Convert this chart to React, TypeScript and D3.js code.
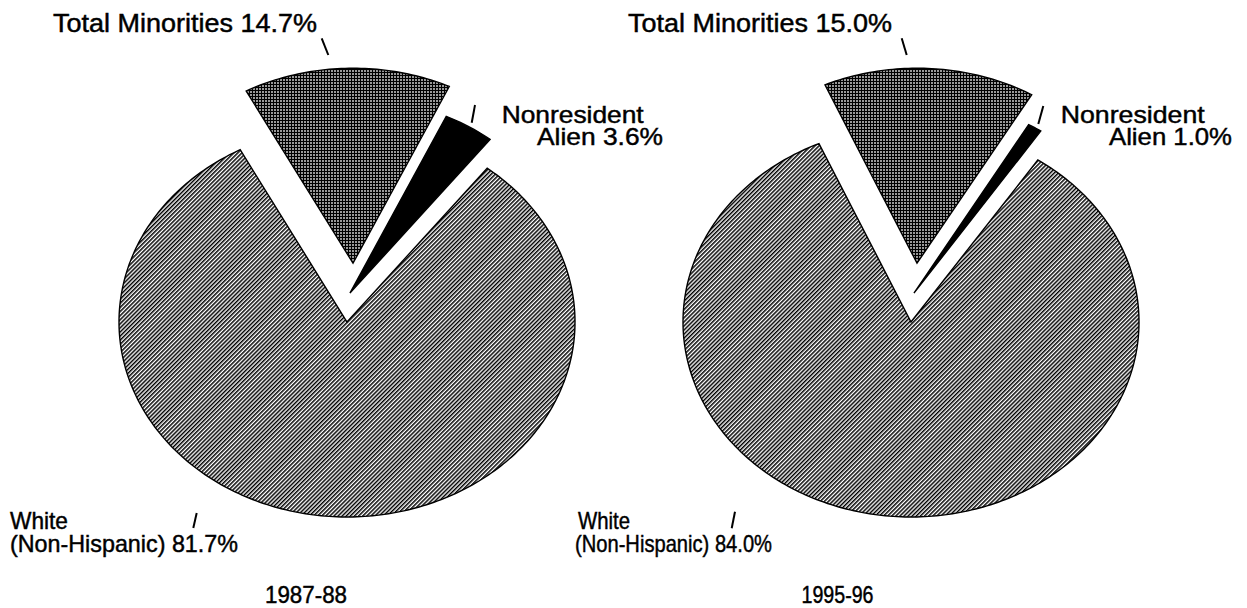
import React from "react";
import * as d3 from "d3";

const categories = ["Total Minorities", "Nonresident Alien", "White (Non-Hispanic)"];
const years = ["1987-88", "1995-96"];
const values8788 = [14.7, 3.6, 81.7];
const values9596 = [15.0, 1.0, 84.0];
const seriesValues = [values8788, values9596];

// layout (styling, not data)
const W = 1247;
const H = 608;
const R = 195;
const SX = 228 / 195;
const centers = [
  { cx: 347, cy: 322 },
  { cx: 911, cy: 322 },
];
const explodeDist = [59, 29, 0];
const explodeDirDeg = 5;
const fills = ["url(#grid)", "#000", "url(#hatch)"];

type Line = { x: number; y: number; w: number };
type PieLayout = {
  tm: Line; tmTick: number[];
  nr1: Line; nr2: Line; nrTick: number[];
  wh1: Line; wh2: Line; whTick: number[];
  title: Line;
};
const layouts: PieLayout[] = [
  {
    tm: { x: 53, y: 32, w: 264 }, tmTick: [321.7, 38.3, 328.3, 55],
    nr1: { x: 501.7, y: 123.3, w: 142 }, nr2: { x: 537, y: 145, w: 126 }, nrTick: [475, 105, 471.7, 122.7],
    wh1: { x: 10, y: 529, w: 58 }, wh2: { x: 10, y: 551.7, w: 228 }, whTick: [196.7, 513, 193.3, 528],
    title: { x: 306, y: 603, w: 82 },
  },
  {
    tm: { x: 628, y: 32, w: 264 }, tmTick: [901.7, 38.3, 906.7, 55],
    nr1: { x: 1060.7, y: 123.3, w: 144 }, nr2: { x: 1109, y: 145, w: 123 }, nrTick: [1043.3, 106, 1038.3, 124],
    wh1: { x: 578, y: 529, w: 52 }, wh2: { x: 575, y: 551.7, w: 197 }, whTick: [735, 511.7, 731.7, 528.3],
    title: { x: 837.5, y: 603, w: 72 },
  },
];

const FONT = "'Liberation Sans', Arial, Helvetica, sans-serif";

function Txt({ l, children, size = 24, anchor = "start" }: { l: Line; children: React.ReactNode; size?: number; anchor?: string }) {
  return (
    <text
      x={l.x}
      y={l.y}
      fontSize={size}
      fontFamily={FONT}
      textAnchor={anchor as any}
      textLength={l.w}
      lengthAdjust="spacingAndGlyphs"
      fill="#000"
      stroke="#000"
      strokeWidth={0.45}
    >
      {children}
    </text>
  );
}

function Tick({ p }: { p: number[] }) {
  return <line x1={p[0]} y1={p[1]} x2={p[2]} y2={p[3]} stroke="#000" strokeWidth={2} />;
}

function Pie({ values, idx }: { values: number[]; idx: number }) {
  const { cx, cy } = centers[idx];
  const nonWhite = (values[0] + values[1]) / 100;
  const start = (explodeDirDeg * Math.PI) / 180 - nonWhite * Math.PI;
  const pie = d3
    .pie<number>()
    .sort(null)
    .value((d) => d)
    .startAngle(start)
    .endAngle(start + 2 * Math.PI);
  const arcs = pie(values);
  const dir = (explodeDirDeg * Math.PI) / 180;
  const line = d3.line<[number, number]>();
  const L = layouts[idx];
  const fmt = (v: number) => `${v.toFixed(1)}%`;
  return (
    <g>
      {arcs.map((a, i) => {
        const ox = explodeDist[i] * Math.sin(dir) * SX;
        const oy = -explodeDist[i] * Math.cos(dir);
        const n = Math.max(8, Math.ceil(((a.endAngle - a.startAngle) * 180) / Math.PI));
        const pts: [number, number][] = [[cx + ox, cy + oy]];
        for (let k = 0; k <= n; k++) {
          const t = a.startAngle + ((a.endAngle - a.startAngle) * k) / n;
          pts.push([cx + ox + SX * R * Math.sin(t), cy + oy - R * Math.cos(t)]);
        }
        return (
          <path
            key={i}
            d={line(pts) + "Z"}
            fill={fills[i]}
            stroke="#000"
            strokeWidth={1.4}
            strokeLinejoin="miter"
          />
        );
      })}
      <Txt l={L.tm} size={25}>{`${categories[0]} ${fmt(values[0])}`}</Txt>
      <Tick p={L.tmTick} />
      <Txt l={L.nr1}>{categories[1].split(" ")[0]}</Txt>
      <Txt l={L.nr2}>{`${categories[1].split(" ")[1]} ${fmt(values[1])}`}</Txt>
      <Tick p={L.nrTick} />
      <Txt l={L.wh1}>{categories[2].split(" ")[0]}</Txt>
      <Txt l={L.wh2}>{`${categories[2].split(" ")[1]} ${fmt(values[2])}`}</Txt>
      <Tick p={L.whTick} />
      <Txt l={L.title} size={23} anchor="middle">{years[idx]}</Txt>
    </g>
  );
}

export default function App() {
  return (
    <svg
      width={W}
      height={H}
      viewBox={`0 0 ${W} ${H}`}
      style={{ position: "absolute", left: 0, top: 0, background: "#fff" }}
    >
      <defs>
        <pattern id="hatch" patternUnits="userSpaceOnUse" width={2.9} height={10} patternTransform="rotate(45)">
          <rect x={0} y={0} width={1.5} height={10} fill="#000" />
        </pattern>
        <pattern id="grid" patternUnits="userSpaceOnUse" width={3} height={3}>
          <rect x={0} y={0} width={3} height={3} fill="#000" />
          <rect x={1} y={1} width={2} height={2} fill="#999" />
        </pattern>
      </defs>
      <rect x={0} y={0} width={W} height={H} fill="#fff" />
      {seriesValues.map((v, i) => (
        <Pie key={i} values={v} idx={i} />
      ))}
    </svg>
  );
}
